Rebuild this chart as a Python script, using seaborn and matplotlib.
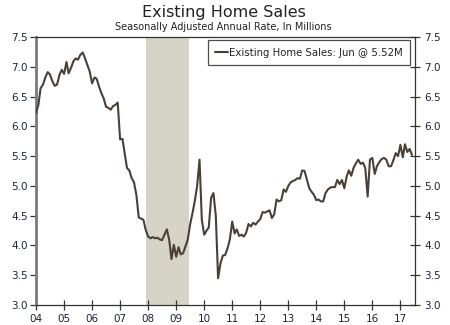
import numpy as np
import pandas as pd
import matplotlib
matplotlib.use("Agg")
import matplotlib.pyplot as plt
import matplotlib.dates as mdates
import seaborn as sns

# Existing home sales, SAAR, millions (Jan 2004 - Jun 2017)
y2004 = [6.22, 6.36, 6.64, 6.70, 6.82, 6.91, 6.87, 6.76, 6.68, 6.70, 6.86, 6.95]
y2005 = [6.88, 7.08, 6.89, 6.98, 7.09, 7.14, 7.12, 7.20, 7.24, 7.14, 7.03, 6.92]
y2006 = [6.72, 6.82, 6.80, 6.67, 6.56, 6.47, 6.33, 6.31, 6.28, 6.34, 6.36, 6.40]
y2007 = [5.78, 5.79, 5.55, 5.30, 5.26, 5.13, 5.06, 4.85, 4.47, 4.45, 4.43, 4.26]
y2008 = [4.15, 4.12, 4.14, 4.12, 4.13, 4.10, 4.09, 4.18, 4.27, 4.10, 3.77, 4.01]
y2009 = [3.81, 3.97, 3.85, 3.87, 3.98, 4.10, 4.35, 4.54, 4.75, 5.00, 5.44, 4.43]
y2010 = [4.18, 4.25, 4.30, 4.80, 4.88, 4.50, 3.45, 3.70, 3.83, 3.84, 3.95, 4.10]
y2011 = [4.40, 4.20, 4.27, 4.16, 4.18, 4.15, 4.21, 4.36, 4.32, 4.38, 4.35, 4.40]
y2012 = [4.44, 4.56, 4.55, 4.57, 4.59, 4.46, 4.52, 4.77, 4.74, 4.76, 4.94, 4.90]
y2013 = [5.00, 5.06, 5.08, 5.10, 5.13, 5.12, 5.26, 5.25, 5.10, 4.96, 4.90, 4.85]
y2014 = [4.76, 4.77, 4.74, 4.74, 4.88, 4.94, 4.97, 4.98, 4.98, 5.10, 5.03, 5.10]
y2015 = [4.96, 5.16, 5.26, 5.17, 5.30, 5.38, 5.44, 5.37, 5.39, 5.30, 4.82, 5.44]
y2016 = [5.47, 5.20, 5.33, 5.40, 5.45, 5.47, 5.44, 5.33, 5.33, 5.43, 5.55, 5.50]
y2017 = [5.69, 5.48, 5.70, 5.57, 5.62, 5.52]

values = (y2004 + y2005 + y2006 + y2007 + y2008 + y2009 + y2010 + y2011 +
          y2012 + y2013 + y2014 + y2015 + y2016 + y2017)
dates = pd.date_range("2004-01-01", periods=len(values), freq="MS")
year_ticks = pd.date_range("2004-01-01", "2017-01-01", freq="YS")
y_ticks = [3.0, 3.5, 4.0, 4.5, 5.0, 5.5, 6.0, 6.5, 7.0, 7.5]
recession = (pd.Timestamp("2007-12-01"), pd.Timestamp("2009-06-20"))
legend_label = "Existing Home Sales: Jun @ 5.52M"

df = pd.DataFrame({"date": dates, "sales": values})

sns.set_theme(style="white")
plt.rcParams["font.family"] = ["DejaVu Sans"]

line_color = "#4b4036"
label_color = "#1c2438"

fig = plt.figure(figsize=(4.5, 3.25), dpi=100)
ax = fig.add_axes([36 / 450, 1 - 305 / 325, (415 - 36) / 450, (305 - 37) / 325])

ax.axvspan(recession[0], recession[1], color="#d6d3c7", lw=0, zorder=0)
sns.lineplot(data=df, x="date", y="sales", ax=ax, color=line_color, lw=1.5,
             label=legend_label, zorder=3)

ax.set_xlim(pd.Timestamp("2004-01-01"), pd.Timestamp("2017-07-10"))
ax.set_ylim(3.0, 7.5)
ax.set_xticks(year_ticks)
ax.xaxis.set_major_formatter(mdates.DateFormatter("%y"))
ax.set_yticks(y_ticks)
ax.set_yticklabels([f"{v:.1f}" for v in y_ticks])
ax.set_xlabel("")
ax.set_ylabel("")

for s in ["top", "bottom", "right"]:
    ax.spines[s].set_color("#333333")
    ax.spines[s].set_linewidth(0.9)
ax.spines["left"].set_color("#7a7a7a")
ax.spines["left"].set_linewidth(2.0)

ax.tick_params(axis="x", direction="inout", length=7, width=0.9, color="#333333",
               labelsize=7.5, labelcolor=label_color, pad=3, bottom=True)
ax.tick_params(axis="y", direction="out", length=4, width=0.9, color="#333333",
               labelsize=7.5, labelcolor=label_color, pad=2, left=True)

ax2 = ax.twinx()
ax2.set_ylim(3.0, 7.5)
ax2.set_yticks(y_ticks)
ax2.set_yticklabels([f"{v:.1f}" for v in y_ticks])
ax2.tick_params(axis="y", direction="inout", length=7, width=0.9, color="#333333",
                labelsize=7.5, labelcolor=label_color, pad=3, right=True)
for s in ax2.spines.values():
    s.set_visible(False)
ax2.grid(False)
ax.grid(False)

leg = ax.legend(loc="upper right", bbox_to_anchor=(0.988, 0.988), fontsize=7.3,
                frameon=True, fancybox=False, handlelength=1.2, handletextpad=0.15,
                borderpad=0.75, borderaxespad=0.0)
leg.get_frame().set_edgecolor("#222222")
leg.get_frame().set_linewidth(0.9)
leg._legend_box.align = "left"
for t in leg.get_texts():
    t.set_color("#222222")

fig.text(0.497, 0.962, "Existing Home Sales", ha="center", va="center",
         fontsize=11.5, color="#222222")
fig.text(0.497, 0.918, "Seasonally Adjusted Annual Rate, In Millions",
         ha="center", va="center", fontsize=7, color="#222222")

fig.savefig("out.png", dpi=100)
